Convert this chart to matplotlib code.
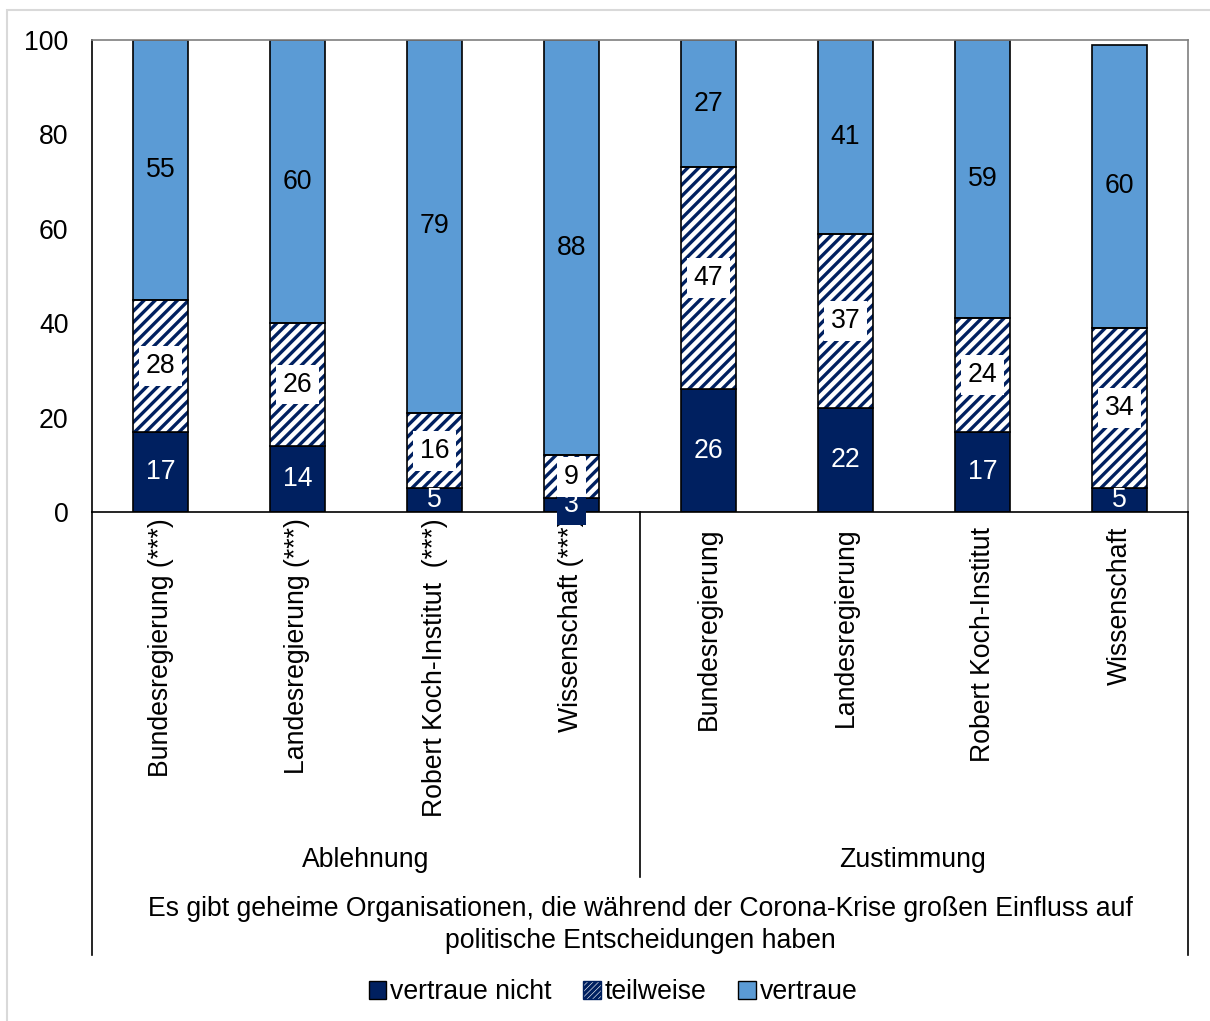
import matplotlib
matplotlib.use("Agg")
import matplotlib.pyplot as plt
from matplotlib.lines import Line2D
from matplotlib.patches import Patch, Rectangle

plt.rcParams['font.family'] = ['Liberation Sans', 'DejaVu Sans']
plt.rcParams['hatch.linewidth'] = 2.4

categories = ["Bundesregierung (***)", "Landesregierung (***)", "Robert Koch-Institut  (***)",
              "Wissenschaft (***)", "Bundesregierung", "Landesregierung",
              "Robert Koch-Institut", "Wissenschaft"]
groups = ["Ablehnung", "Zustimmung"]
vertraue_nicht = [17, 14, 5, 3, 26, 22, 17, 5]
teilweise = [28, 26, 16, 9, 47, 37, 24, 34]
vertraue = [55, 60, 79, 88, 27, 41, 59, 60]
legend_labels = ["vertraue nicht", "teilweise", "vertraue"]
caption = "Es gibt geheime Organisationen, die während der Corona-Krise großen Einfluss auf\npolitische Entscheidungen haben"
yticks = [0, 20, 40, 60, 80, 100]

NAVY = "#002060"
LIGHT = "#5B9BD5"
FS = 19.2

W, H = 1210, 1021
fig = plt.figure(figsize=(W / 100, H / 100), dpi=100)
ax = fig.add_axes([92 / W, 1 - 512 / H, (1188 - 92) / W, (512 - 40) / H])

x = list(range(len(categories)))
bw = 0.4
ax.bar(x, vertraue_nicht, bw, color=NAVY, edgecolor='black', linewidth=1.2, zorder=2)
bottom2 = vertraue_nicht
ax.bar(x, teilweise, bw, bottom=bottom2, color='white', edgecolor=NAVY, hatch='///',
       linewidth=0, zorder=2)
ax.bar(x, teilweise, bw, bottom=bottom2, fill=False, edgecolor='black', linewidth=1.2, zorder=3)
bottom3 = [a + b for a, b in zip(vertraue_nicht, teilweise)]
ax.bar(x, vertraue, bw, bottom=bottom3, color=LIGHT, edgecolor='black', linewidth=1.2, zorder=2)

for i in x:
    v1, v2, v3 = vertraue_nicht[i], teilweise[i], vertraue[i]
    kw = dict(ha='center', va='center', fontsize=FS, zorder=5)
    if v1 < 4:
        ax.text(i, v1 / 2, str(v1), color='white',
                bbox=dict(facecolor=NAVY, edgecolor='none', pad=5), **kw)
    else:
        ax.text(i, v1 / 2, str(v1), color='white', **kw)
    ax.text(i, v1 + v2 / 2, str(v2), color='black',
            bbox=dict(facecolor='white', edgecolor='none', pad=5), **kw)
    ax.text(i, v1 + v2 + v3 / 2, str(v3), color='black', **kw)

ax.set_xlim(-0.5, 7.5)
ax.set_ylim(0, 100)
ax.set_yticks(yticks)
ax.set_yticklabels([str(t) for t in yticks], fontsize=FS)
ax.tick_params(axis='y', length=0, pad=17)
ax.set_xticks([])
for s in ['top', 'right']:
    ax.spines[s].set_color('#7f7f7f')
    ax.spines[s].set_linewidth(1.2)
for s in ['left', 'bottom']:
    ax.spines[s].set_color('black')
    ax.spines[s].set_linewidth(1.2)

for i, c in enumerate(categories):
    off = -6 if "(***)" in c else -15
    ax.annotate(c, xy=(i, 0), xycoords=('data', 'axes fraction'), xytext=(0, off),
                textcoords='offset pixels', rotation=90, ha='center', va='top', fontsize=FS,
                zorder=1)

def fx(px):
    return px / W

def fy(py):
    return 1 - py / H

for (xp, y0, y1) in [(92, 512, 955), (640, 512, 877), (1188, 512, 955)]:
    fig.add_artist(Line2D([fx(xp), fx(xp)], [fy(y0), fy(y1)], color='black', linewidth=1.2))

fig.text(fx(366), fy(860), groups[0], ha='center', va='center', fontsize=FS)
fig.text(fx(913), fy(860), groups[1], ha='center', va='center', fontsize=FS)
fig.text(fx(640), fy(925), caption, ha='center', va='center', fontsize=FS, linespacing=1.3)

handles = [Patch(facecolor=NAVY, edgecolor='black'),
           Patch(facecolor='white', edgecolor=NAVY, hatch='//////'),
           Patch(facecolor=LIGHT, edgecolor='black')]
fig.legend(handles, legend_labels, loc='center', bbox_to_anchor=(fx(613), fy(992)),
           ncol=3, frameon=False, fontsize=FS, handlelength=0.65, handleheight=0.65,
           handletextpad=0.15, columnspacing=1.2)

fig.add_artist(Rectangle((fx(7), -0.1), 1.2, fy(10) + 0.1, fill=False,
                         edgecolor='#d9d9d9', linewidth=1.5, transform=fig.transFigure))

fig.savefig("out.png", dpi=100)
